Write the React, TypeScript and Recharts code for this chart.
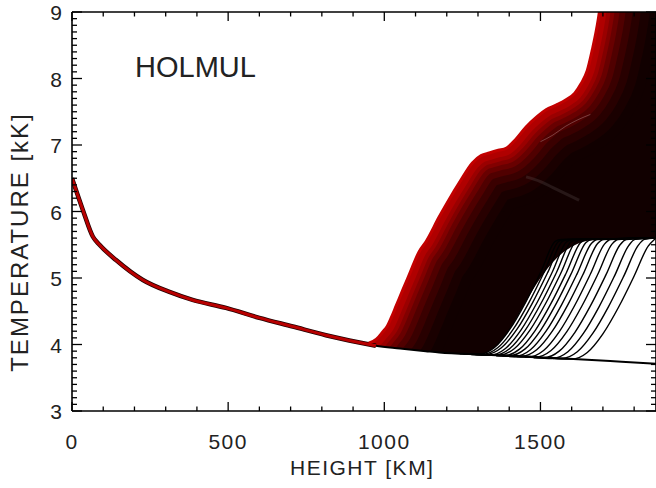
import React from 'react';
import { ComposedChart, Line, Area, XAxis, YAxis } from 'recharts';

// lower temperature profile shared by every model (km, kK)
const baseHeight = [0, 35, 67, 88, 141, 227, 312, 386, 493, 600, 707, 813, 920, 973, 1050, 1133, 1176, 1300, 1420, 1528, 1650, 1760, 1870];
const baseTemp = [6.5, 6.02, 5.62, 5.5, 5.27, 4.97, 4.79, 4.67, 4.55, 4.4, 4.27, 4.14, 4.03, 3.98, 3.94, 3.9, 3.88, 3.85, 3.83, 3.8, 3.77, 3.74, 3.71];

// earliest chromospheric rise (the red front)
const frontHeight = [950, 975, 995, 1010, 1022, 1038, 1060, 1080, 1112, 1134, 1176, 1210, 1240, 1282, 1310, 1336, 1365, 1390, 1420, 1454, 1490, 1518, 1550, 1582, 1610, 1630, 1650, 1666, 1680, 1690, 1705];
const frontTemp = [4.02, 4.08, 4.19, 4.28, 4.4, 4.58, 4.83, 5.05, 5.4, 5.55, 5.92, 6.2, 6.43, 6.73, 6.84, 6.88, 6.92, 6.95, 7.08, 7.27, 7.43, 7.53, 7.6, 7.68, 7.78, 7.92, 8.12, 8.43, 8.75, 9.05, 9.9];

// late-rising models, right to left: [height, temperature]
const rises = [
  [[1540, 3.79], [1600, 3.78], [1650, 3.88], [1700, 4.16], [1750, 4.56], [1800, 5.03], [1845, 5.48], [1865, 5.58], [1870, 5.6]],
  [[1508, 3.8], [1568, 3.79], [1618, 3.89], [1668, 4.17], [1718, 4.57], [1768, 5.04], [1813, 5.49], [1833, 5.58], [1870, 5.6]],
  [[1478, 3.8], [1538, 3.79], [1588, 3.89], [1638, 4.17], [1688, 4.57], [1738, 5.04], [1783, 5.49], [1803, 5.58], [1870, 5.6]],
  [[1450, 3.81], [1510, 3.8], [1560, 3.9], [1610, 4.18], [1660, 4.58], [1710, 5.05], [1755, 5.5], [1775, 5.58], [1870, 5.6]],
  [[1424, 3.82], [1484, 3.81], [1534, 3.91], [1584, 4.19], [1634, 4.59], [1684, 5.06], [1729, 5.51], [1749, 5.58], [1870, 5.6]],
  [[1400, 3.82], [1460, 3.81], [1510, 3.91], [1560, 4.19], [1610, 4.59], [1660, 5.06], [1705, 5.51], [1725, 5.58], [1870, 5.6]],
  [[1378, 3.83], [1438, 3.82], [1488, 3.92], [1538, 4.2], [1588, 4.6], [1638, 5.07], [1683, 5.52], [1703, 5.58], [1870, 5.6]],
  [[1358, 3.83], [1418, 3.82], [1468, 3.92], [1518, 4.2], [1568, 4.6], [1618, 5.07], [1663, 5.52], [1683, 5.58], [1870, 5.6]],
  [[1340, 3.84], [1400, 3.83], [1450, 3.93], [1500, 4.21], [1550, 4.61], [1600, 5.08], [1645, 5.53], [1665, 5.58], [1870, 5.6]],
  [[1323, 3.84], [1383, 3.83], [1433, 3.93], [1483, 4.21], [1533, 4.61], [1583, 5.08], [1628, 5.53], [1648, 5.58], [1870, 5.6]],
  [[1307, 3.85], [1367, 3.84], [1417, 3.94], [1467, 4.22], [1517, 4.62], [1567, 5.09], [1612, 5.54], [1632, 5.58], [1870, 5.6]],
  [[1292, 3.85], [1352, 3.84], [1402, 3.94], [1452, 4.22], [1502, 4.62], [1552, 5.09], [1597, 5.54], [1617, 5.58], [1870, 5.6]],
  [[1278, 3.85], [1338, 3.84], [1388, 3.94], [1438, 4.22], [1488, 4.62], [1538, 5.09], [1583, 5.54], [1603, 5.58], [1870, 5.6]],
  [[1265, 3.86], [1325, 3.85], [1375, 3.95], [1425, 4.23], [1475, 4.63], [1525, 5.1], [1570, 5.55], [1590, 5.58], [1870, 5.6]],
  [[1253, 3.86], [1313, 3.85], [1363, 3.95], [1413, 4.23], [1463, 4.63], [1513, 5.1], [1558, 5.55], [1578, 5.58], [1870, 5.6]],
  [[1242, 3.86], [1302, 3.85], [1352, 3.95], [1402, 4.23], [1452, 4.63], [1502, 5.1], [1547, 5.55], [1567, 5.58], [1870, 5.6]],
];

// upper edge of the open (white) area between the late models
const gapEdge = [[1242, 3.86], [1302, 3.85], [1352, 3.95], [1402, 4.23], [1452, 4.63], [1500, 5.0], [1548, 5.28], [1600, 5.47], [1650, 5.56], [1700, 5.58], [1870, 5.6]];

// faint plateau traces inside the dark band
const paleTrace = [[1500, 7.05], [1540, 7.15], [1580, 7.28], [1620, 7.38], [1660, 7.46]];
const greyTrace = [[1454, 6.52], [1500, 6.45], [1540, 6.36], [1580, 6.27], [1624, 6.17]];

const xMajor = [0, 500, 1000, 1500];
const yMajor = [3, 4, 5, 6, 7, 8, 9];

const xTicks = Array.from({ length: 19 }, (_, i) => i * 100);
const yTicks = Array.from({ length: 61 }, (_, i) => Math.round((3 + i * 0.1) * 10) / 10);

// one table keyed by height; each series only fills its own column
const rowMap = new Map<number, any>();
const put = (key: string, h: number, v: number) => {
  const row = rowMap.get(h) ?? { h };
  row[key] = v;
  rowMap.set(h, row);
};
baseHeight.forEach((h, i) => {
  if (h <= 973) put('red', h, baseTemp[i]);
  if (h >= 920) put('low', h, baseTemp[i]);
  if (h >= 813) put('under', h, baseTemp[i]);
  if (h >= 813 && h < 950) put('over', h, baseTemp[i]);
});
frontHeight.forEach((h, i) => {
  put('front', h, frontTemp[i]);
  put('over', h, frontTemp[i]);
  put('fill', h, frontTemp[i]);
});
put('fill', 1870, 9.9);
put('over', 1870, 9.9);
rises.forEach((r, k) => r.forEach(([h, t]) => put('rise' + k, h, t)));
gapEdge.forEach(([h, t]) => put('gap', h, t));
paleTrace.forEach(([h, t]) => put('pale', h, t));
greyTrace.forEach(([h, t]) => put('grey', h, t));
const data = [...rowMap.values()].sort((a, b) => a.h - b.h);

// dark red shading that trails the front
const shade = [
  { w: 120, c: '#110000' },
  { w: 100, c: '#1a0000' },
  { w: 82, c: '#280000' },
  { w: 66, c: '#3a0000' },
  { w: 52, c: '#500000' },
  { w: 40, c: '#680000' },
  { w: 30, c: '#820000' },
  { w: 22, c: '#9a0000' },
  { w: 14, c: '#b00000' },
];

const FONT = '"Liberation Sans", Arial, sans-serif';
const INK = '#222';

const isMajor = (v: number, list: number[]) => list.some((m) => Math.abs(m - v) < 1e-6);

const BottomTick = (props: any) => {
  const { x, y, payload } = props;
  const major = isMajor(payload.value, xMajor);
  return (
    <g>
      <line x1={x} x2={x} y1={y} y2={y - (major ? 9 : 4.5)} stroke="#000" strokeWidth={1.3} />
      {major && (
        <text x={x} y={y + 38} textAnchor="middle" fontFamily={FONT} fontSize={21} fill={INK} letterSpacing={1.5}>
          {payload.value}
        </text>
      )}
    </g>
  );
};

const TopTick = (props: any) => {
  const { x, y, payload } = props;
  const major = isMajor(payload.value, xMajor);
  return <line x1={x} x2={x} y1={y} y2={y + (major ? 9 : 4.5)} stroke="#000" strokeWidth={1.3} />;
};

const LeftTick = (props: any) => {
  const { x, y, payload } = props;
  const major = isMajor(payload.value, yMajor);
  return (
    <g>
      <line x1={x} x2={x + (major ? 10 : 5)} y1={y} y2={y} stroke="#000" strokeWidth={1.3} />
      {major && (
        <text x={x - 10} y={y + 8} textAnchor="end" fontFamily={FONT} fontSize={21} fill={INK}>
          {payload.value}
        </text>
      )}
    </g>
  );
};

const RightTick = (props: any) => {
  const { x, y, payload } = props;
  const major = isMajor(payload.value, yMajor);
  return <line x1={x} x2={x - (major ? 10 : 5)} y1={y} y2={y} stroke="#000" strokeWidth={1.3} />;
};

const frame = { stroke: '#000', strokeWidth: 1.6 };

// layer order: dark fill, front shading, white masks, thin profiles
const Z_FILL = 100;
const Z_SHADE = 150;
const Z_MASK = 200;

export default function App() {
  return (
    <div style={{ position: 'absolute', left: 0, top: 0, width: 656, height: 488, overflow: 'hidden', background: '#fff' }}>
      <ComposedChart width={658} height={488} data={data} margin={{ top: 0, right: 0, bottom: 0, left: 0 }}>
        <XAxis xAxisId="b" type="number" dataKey="h" domain={[0, 1870]} allowDataOverflow ticks={xTicks} interval={0}
          tick={<BottomTick />} tickLine={false} tickSize={0} tickMargin={0} height={77} axisLine={frame} />
        <XAxis xAxisId="t" orientation="top" type="number" dataKey="h" domain={[0, 1870]} allowDataOverflow ticks={xTicks} interval={0}
          tick={<TopTick />} tickLine={false} tickSize={0} tickMargin={0} height={12} axisLine={frame} />
        <YAxis yAxisId="l" type="number" domain={[3, 9]} allowDataOverflow ticks={yTicks} interval={0}
          tick={<LeftTick />} tickLine={false} tickSize={0} tickMargin={0} width={72} axisLine={frame} />
        <YAxis yAxisId="r" orientation="right" type="number" domain={[3, 9]} allowDataOverflow ticks={yTicks} interval={0}
          tick={<RightTick />} tickLine={false} tickSize={0} tickMargin={0} width={2} axisLine={frame} />

        <Area zIndex={Z_FILL} xAxisId="b" yAxisId="l" dataKey="fill" baseValue={2.5} type="monotone" connectNulls stroke="none" fill="#110000" fillOpacity={1} isAnimationActive={false} />
        {shade.map((s, i) => (
          <Line zIndex={Z_SHADE} key={'s' + i} xAxisId="b" yAxisId="l" dataKey="front" type="monotone" connectNulls dot={false}
            stroke={s.c} strokeWidth={s.w} strokeLinejoin="round" isAnimationActive={false} />
        ))}
        <Line zIndex={Z_SHADE} xAxisId="b" yAxisId="l" dataKey="pale" type="monotone" connectNulls dot={false} stroke="#e0d0d0" strokeOpacity={0.3} strokeWidth={1} isAnimationActive={false} />
        <Line zIndex={Z_SHADE} xAxisId="b" yAxisId="l" dataKey="grey" type="monotone" connectNulls dot={false} stroke="#6a5a5a" strokeOpacity={0.25} strokeWidth={3} isAnimationActive={false} />
        <Area zIndex={Z_MASK} xAxisId="b" yAxisId="l" dataKey="gap" baseValue={2.5} type="monotone" connectNulls stroke="none" fill="#fff" fillOpacity={1} isAnimationActive={false} />
        <Area zIndex={Z_MASK} xAxisId="b" yAxisId="l" dataKey="over" baseValue={10} type="monotone" connectNulls stroke="none" fill="#fff" fillOpacity={1} isAnimationActive={false} />
        <Area zIndex={Z_MASK} xAxisId="b" yAxisId="l" dataKey="under" baseValue={2.5} type="monotone" connectNulls stroke="none" fill="#fff" fillOpacity={1} isAnimationActive={false} />

        {rises.map((_, k) => (
          <Line key={'r' + k} xAxisId="b" yAxisId="l" dataKey={'rise' + k} type="monotone" connectNulls dot={false}
            stroke="#000" strokeWidth={1.4} isAnimationActive={false} />
        ))}
        <Line xAxisId="b" yAxisId="l" dataKey="low" type="monotone" connectNulls dot={false} stroke="#000" strokeWidth={2} isAnimationActive={false} />
        <Line xAxisId="b" yAxisId="l" dataKey="red" type="monotone" connectNulls dot={false} stroke="#200000" strokeWidth={4.5} isAnimationActive={false} />
        <Line xAxisId="b" yAxisId="l" dataKey="red" type="monotone" connectNulls dot={false} stroke="#b80000" strokeWidth={3} isAnimationActive={false} />
        <Line xAxisId="b" yAxisId="l" dataKey="front" type="monotone" connectNulls dot={false} stroke="#c20000" strokeWidth={3} isAnimationActive={false} />
      </ComposedChart>

      <div style={{ position: 'absolute', left: 135, top: 53, fontFamily: FONT, fontSize: 29, color: INK, lineHeight: 1 }}>HOLMUL</div>
      <div style={{ position: 'absolute', left: 290, top: 457, fontFamily: FONT, fontSize: 21, color: INK, lineHeight: 1, letterSpacing: 1.5, whiteSpace: 'nowrap' }}>
        HEIGHT [KM]
      </div>
      <div style={{ position: 'absolute', left: 20, top: 242, transform: 'translate(-50%, -50%) rotate(-90deg)', fontFamily: FONT, fontSize: 24, color: INK, lineHeight: 1, letterSpacing: 2, whiteSpace: 'nowrap' }}>
        TEMPERATURE [kK]
      </div>
    </div>
  );
}
